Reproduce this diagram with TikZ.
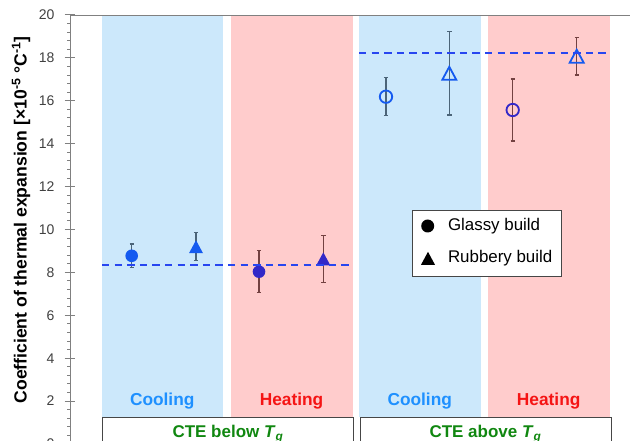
\documentclass[tikz,border=0pt]{standalone}
\usepackage{fontspec}
\setmainfont{Liberation Sans}
\definecolor{bgblue}{RGB}{204,232,251}
\definecolor{bgpink}{RGB}{255,204,204}
\definecolor{axgray}{RGB}{128,128,128}
\definecolor{ticktxt}{RGB}{64,64,64}
\definecolor{coolmk}{RGB}{20,90,240}
\definecolor{heatmk}{RGB}{50,40,200}
\definecolor{coolbar}{RGB}{75,100,120}
\definecolor{heatbar}{RGB}{115,65,65}
\definecolor{dashblue}{RGB}{40,70,240}
\definecolor{cooltxt}{RGB}{30,144,255}
\definecolor{heattxt}{RGB}{245,20,20}
\definecolor{greentxt}{RGB}{16,135,16}
\definecolor{boxgray}{RGB}{70,70,70}
\newcommand\errbar[4]{%
  \draw[#4,line width=1.3] ({#1},{#2-#3}) -- ({#1},{#2+#3});
  \draw[#4,line width=1.3] ({#1-2.2},{#2-#3}) -- ({#1+2.2},{#2-#3});
  \draw[#4,line width=1.3] ({#1-2.2},{#2+#3}) -- ({#1+2.2},{#2+#3});}
\tikzset{
  regionlabel/.style={font=\bfseries\fontsize{17.3}{19}\selectfont},
  boxlabel/.style={font=\bfseries\fontsize{17}{19}\selectfont,text=greentxt},
  ticklabel/.style={font=\fontsize{14}{16}\selectfont,text=ticktxt,anchor=east},
  legtext/.style={font=\fontsize{16.9}{19}\selectfont,anchor=west},
  meanline/.style={dashblue,line width=2,dash pattern=on 7.3 off 5.3},
}
\begin{document}
\begin{tikzpicture}[x=1pt,y=-1pt]
\useasboundingbox (0,0) rectangle (630,441);
% background regions
\fill[bgblue] (102,15.3) rectangle (222.5,417);
\fill[bgpink] (230.5,15.3) rectangle (352.5,417);
\fill[bgblue] (359,15.3) rectangle (480.5,417);
\fill[bgpink] (488,15.3) rectangle (609.5,417);
% frame and axis
\draw[axgray,line width=1.3] (70.7,15.3) -- (632,15.3);
\draw[axgray,line width=1.3] (70.7,15.3) -- (70.7,445);
\foreach \v in {0,2,...,20}{
  \draw[axgray,line width=1] (64.5,{444-21.45*\v}) -- (75,{444-21.45*\v});
  \node[ticklabel] (t\v) at (58,{444-21.45*\v}) {\v};
}
\foreach \v in {0.4,0.8,...,19.7}{
  \draw[axgray,line width=1] (67,{444-21.45*\v}) -- (70.7,{444-21.45*\v});
}
% axis title
\node[rotate=90,font=\bfseries\fontsize{17.6}{19}\selectfont] (ytitle) at (21,220)
  {Coefficient of thermal expansion [×10\textsuperscript{-5} °C\textsuperscript{-1}]};
% error bars
\errbar{131.7}{255.8}{11.8}{coolbar}
\errbar{196}{246.7}{14}{coolbar}
\errbar{259}{271.7}{21}{heatbar}
\errbar{323.3}{258.8}{23.5}{heatbar}
\errbar{386}{96.7}{19}{coolbar}
\errbar{449.3}{73.3}{41.7}{coolbar}
\errbar{512.7}{110}{31}{heatbar}
\errbar{576.7}{56.2}{18.8}{heatbar}
% markers below Tg (filled)
\fill[coolmk] (131.7,255.8) circle (6.3);
\fill[coolmk] (196,246.7) ++(0,-6.5) -- ++(7,13) -- ++(-14,0) -- cycle;
\fill[heatmk] (259,271.7) circle (6.3);
\fill[heatmk] (323.3,258.8) ++(0,-6.5) -- ++(7,13) -- ++(-14,0) -- cycle;
% markers above Tg (open)
\draw[coolmk,line width=1.8] (386,96.7) circle (6.2);
\draw[coolmk,line width=1.8,line join=miter] (449.3,73.3) ++(0,-6.5) -- ++(7,13) -- ++(-14,0) -- cycle;
\draw[heatmk,line width=1.8] (512.7,110) circle (6.2);
\draw[coolmk,line width=1.8,line join=miter] (576.7,56.2) ++(0,-6.5) -- ++(7,13) -- ++(-14,0) -- cycle;
% mean lines
\draw[meanline] (102,265.3) -- (352.5,265.3);
\draw[meanline] (359,52.7) -- (609.5,52.7);
% legend
\draw[boxgray,fill=white,line width=0.9] (412.3,210.7) rectangle (561.7,276);
\fill[black] (427.7,226) circle (6.5);
\fill[black] (428,258.3) ++(0,-6.5) -- ++(7,13) -- ++(-14,0) -- cycle;
\node[legtext] (lg1) at (444.5,226) {Glassy build};
\node[legtext] (lg2) at (444.5,258.3) {Rubbery build};
% region labels
\node[regionlabel,text=cooltxt] (c1) at (162.2,401) {Cooling};
\node[regionlabel,text=heattxt] (h1) at (291.5,401) {Heating};
\node[regionlabel,text=cooltxt] (c2) at (419.7,401) {Cooling};
\node[regionlabel,text=heattxt] (h2) at (548.7,401) {Heating};
% bottom boxes
\draw[boxgray,line width=1] (102.7,450) -- (102.7,417.7) -- (353.3,417.7) -- (353.3,450);
\draw[boxgray,line width=1] (360,450) -- (360,417.7) -- (611,417.7) -- (611,450);
\node[boxlabel] (b1) at (228,434) {CTE below \textit{T}\textsubscript{\textit{g}}};
\node[boxlabel] (b2) at (485.5,434) {CTE above \textit{T}\textsubscript{\textit{g}}};
\end{tikzpicture}
\end{document}
